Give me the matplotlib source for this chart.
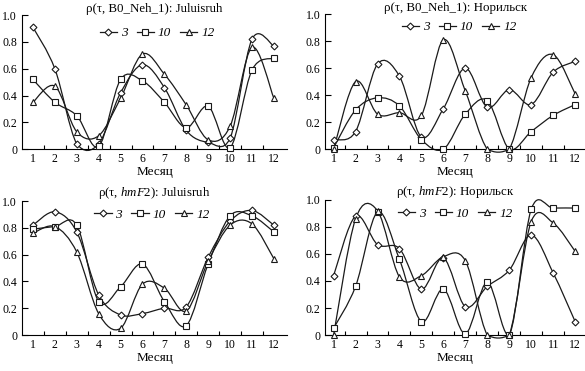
import numpy as np
import matplotlib
matplotlib.use('Agg')
import matplotlib.pyplot as plt
from matplotlib.path import Path
from matplotlib.patches import PathPatch
from matplotlib.lines import Line2D

plt.rcParams['font.family'] = ['Liberation Serif', 'DejaVu Serif']
plt.rcParams['mathtext.fontset'] = 'custom'
plt.rcParams['mathtext.rm'] = 'Liberation Serif'
plt.rcParams['mathtext.it'] = 'Liberation Serif:italic'

months = list(range(1, 13))
series_names = ['3', '10', '12']
markers = ['D', 's', '^']
msizes = [3.5, 5, 5]

# rho(tau, B0_Neh_1): Juluisruh
b0_jul_3 = [0.91, 0.60, 0.04, 0.04, 0.42, 0.63, 0.46, 0.14, 0.05, 0.08, 0.82, 0.77]
b0_jul_10 = [0.52, 0.35, 0.25, 0.02, 0.52, 0.51, 0.35, 0.16, 0.32, 0.01, 0.59, 0.68]
b0_jul_12 = [0.35, 0.47, 0.13, 0.10, 0.38, 0.71, 0.56, 0.33, 0.07, 0.17, 0.76, 0.38]

# rho(tau, B0_Neh_1): Norilsk
b0_nor_3 = [0.07, 0.13, 0.63, 0.54, 0.09, 0.30, 0.60, 0.31, 0.44, 0.33, 0.57, 0.65]
b0_nor_10 = [0.01, 0.29, 0.38, 0.32, 0.07, 0.0, 0.26, 0.36, 0.0, 0.13, 0.25, 0.33]
b0_nor_12 = [0.0, 0.50, 0.26, 0.27, 0.25, 0.81, 0.43, 0.0, 0.0, 0.53, 0.70, 0.41]

# rho(tau, hmF2): Juluisruh
hm_jul_3 = [0.82, 0.92, 0.77, 0.30, 0.15, 0.16, 0.20, 0.21, 0.58, 0.85, 0.93, 0.82]
hm_jul_10 = [0.79, 0.81, 0.82, 0.25, 0.36, 0.53, 0.25, 0.07, 0.53, 0.89, 0.89, 0.77]
hm_jul_12 = [0.76, 0.81, 0.62, 0.16, 0.05, 0.38, 0.35, 0.18, 0.55, 0.82, 0.83, 0.57]

# rho(tau, hmF2): Norilsk
hm_nor_3 = [0.44, 0.88, 0.67, 0.64, 0.34, 0.57, 0.21, 0.36, 0.48, 0.74, 0.46, 0.10]
hm_nor_10 = [0.05, 0.36, 0.91, 0.56, 0.10, 0.34, 0.01, 0.39, 0.0, 0.93, 0.94, 0.94]
hm_nor_12 = [0.0, 0.86, 0.92, 0.43, 0.44, 0.58, 0.55, 0.0, 0.0, 0.84, 0.83, 0.62]

panels = [
    ('ρ(τ, B0_Neh_1): Juluisruh', [b0_jul_3, b0_jul_10, b0_jul_12]),
    ('ρ(τ, B0_Neh_1): Норильск', [b0_nor_3, b0_nor_10, b0_nor_12]),
    ('ρ(τ, $\\mathit{hmF}$2): Juluisruh', [hm_jul_3, hm_jul_10, hm_jul_12]),
    ('ρ(τ, $\\mathit{hmF}$2): Норильск', [hm_nor_3, hm_nor_10, hm_nor_12]),
]

# axes rectangles and x limits (left panels / right panels)
rects = [
    [0.0376, 0.598, 0.453, 0.361],
    [0.556, 0.598, 0.444, 0.364],
    [0.0376, 0.097, 0.453, 0.361],
    [0.556, 0.097, 0.444, 0.364],
]
xlims = [(0.5, 12.6), (0.62, 12.45), (0.5, 12.6), (0.62, 12.45)]
legend_pos = [(0.51, 0.866), (0.515, 0.904), (0.49, 0.90), (0.50, 0.90)]

LC = '#1a1a1a'


def smooth_path(x, y):
    '''Catmull-Rom spline through the points, as bezier path'''
    pts = np.column_stack([x, y]).astype(float)
    verts = [pts[0]]
    codes = [Path.MOVETO]
    n = len(pts)
    for i in range(n - 1):
        p0 = pts[i - 1] if i > 0 else pts[i]
        p1 = pts[i]
        p2 = pts[i + 1]
        p3 = pts[i + 2] if i + 2 < n else pts[i + 1]
        c1 = p1 + (p2 - p0) / 6.0
        c2 = p2 - (p3 - p1) / 6.0
        # keep the curve from diving far below the axis
        c1[1] = max(c1[1], -0.03)
        c2[1] = max(c2[1], -0.03)
        verts += [c1, c2, p2]
        codes += [Path.CURVE4] * 3
    return Path(verts, codes)


fig = plt.figure(figsize=(5.85, 3.71), dpi=100)

for k, (title, data) in enumerate(panels):
    ax = fig.add_axes(rects[k])
    for vals, m, ms in zip(data, markers, msizes):
        patch = PathPatch(smooth_path(months, vals), fill=False, edgecolor=LC,
                          lw=0.9, clip_on=False, zorder=2)
        ax.add_patch(patch)
        ax.plot(months, vals, ls='none', marker=m, ms=ms, mfc='white',
                mec=LC, mew=0.8, clip_on=False, zorder=3)
    ax.set_xlim(*xlims[k])
    ax.set_ylim(0, 1.0)
    ax.spines['top'].set_visible(False)
    ax.spines['right'].set_visible(False)
    ax.spines['left'].set_linewidth(0.8)
    ax.spines['bottom'].set_linewidth(0.8)
    ax.set_yticks([0, 0.2, 0.4, 0.6, 0.8, 1.0])
    ax.set_yticklabels(['0', '0.2', '0.4', '0.6', '0.8', '1.0'])
    ax.set_xticks(months)
    ax.set_xticks(np.arange(1.5, 12.5, 1.0), minor=True)
    ax.tick_params(axis='x', which='major', length=0, pad=3, labelsize=8.5)
    ax.tick_params(axis='x', which='minor', direction='in', length=3, width=0.8)
    ax.tick_params(axis='y', direction='in', length=4, width=0.8, pad=3.5, labelsize=8.5)
    ax.set_xlabel('Месяц', fontsize=9.5, labelpad=0.5)
    ax.set_title(title, fontsize=9.3, pad=2)
    handles = [Line2D([0], [0], color=LC, lw=0.9, marker=m, ms=ms, mfc='white',
                      mec=LC, mew=0.8) for m, ms in zip(markers, msizes)]
    ax.legend(handles, series_names, loc='center', bbox_to_anchor=legend_pos[k],
              ncol=3, frameon=False, handlelength=1.3, handletextpad=0.3,
              columnspacing=0.7, borderpad=0, prop={'style': 'italic', 'size': 9.5})

fig.savefig('out.png', dpi=100)
